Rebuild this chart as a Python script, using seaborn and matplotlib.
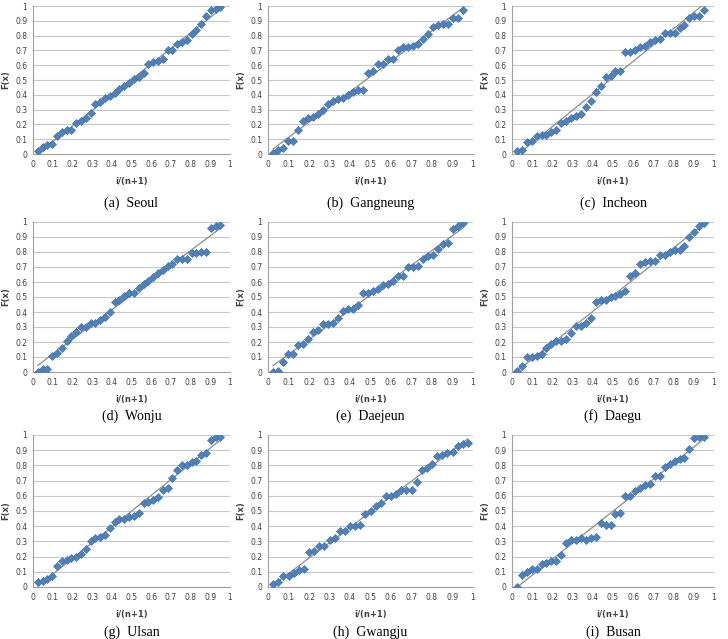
import numpy as np
import pandas as pd
import seaborn as sns
import matplotlib.pyplot as plt

# P-P plot values F(x) per station (39 points each)
seoul = [0.02, 0.05, 0.06, 0.07, 0.12, 0.15, 0.16, 0.16, 0.21, 0.22, 0.24, 0.28, 0.34, 0.35, 0.38, 0.39,
         0.41, 0.44, 0.46, 0.48, 0.51, 0.52, 0.55, 0.61, 0.62, 0.63, 0.64, 0.70, 0.70, 0.74, 0.76, 0.77,
         0.81, 0.84, 0.88, 0.93, 0.97, 0.98, 0.99]
gangneung = [0.01, 0.03, 0.04, 0.09, 0.09, 0.16, 0.22, 0.24, 0.25, 0.27, 0.30, 0.34, 0.36, 0.37, 0.38, 0.40,
             0.42, 0.43, 0.43, 0.55, 0.56, 0.61, 0.61, 0.64, 0.64, 0.70, 0.72, 0.72, 0.73, 0.74, 0.78, 0.81,
             0.86, 0.87, 0.88, 0.88, 0.92, 0.92, 0.97]
incheon = [0.02, 0.03, 0.08, 0.09, 0.12, 0.13, 0.13, 0.15, 0.16, 0.21, 0.22, 0.24, 0.26, 0.27, 0.32, 0.36,
           0.42, 0.46, 0.52, 0.53, 0.56, 0.56, 0.69, 0.69, 0.70, 0.72, 0.73, 0.76, 0.77, 0.78, 0.82, 0.82,
           0.82, 0.85, 0.87, 0.92, 0.93, 0.93, 0.97]
wonju = [0.00, 0.02, 0.02, 0.11, 0.13, 0.16, 0.21, 0.24, 0.27, 0.30, 0.30, 0.33, 0.33, 0.35, 0.37, 0.40,
         0.47, 0.48, 0.51, 0.53, 0.53, 0.56, 0.59, 0.61, 0.63, 0.66, 0.68, 0.71, 0.72, 0.75, 0.75, 0.75,
         0.79, 0.79, 0.80, 0.80, 0.96, 0.97, 0.98]
daejeun = [0.00, 0.01, 0.07, 0.12, 0.12, 0.18, 0.19, 0.22, 0.27, 0.28, 0.32, 0.32, 0.33, 0.36, 0.41, 0.42,
           0.42, 0.45, 0.53, 0.53, 0.54, 0.55, 0.58, 0.59, 0.61, 0.64, 0.64, 0.70, 0.70, 0.71, 0.75, 0.77,
           0.78, 0.82, 0.85, 0.86, 0.95, 0.97, 0.99]
daegu = [0.01, 0.04, 0.10, 0.10, 0.11, 0.12, 0.16, 0.19, 0.21, 0.21, 0.22, 0.26, 0.31, 0.31, 0.33, 0.36,
         0.47, 0.48, 0.48, 0.50, 0.51, 0.52, 0.54, 0.64, 0.66, 0.72, 0.73, 0.74, 0.74, 0.78, 0.78, 0.80,
         0.81, 0.81, 0.84, 0.90, 0.93, 0.97, 0.99]
ulsan = [0.03, 0.04, 0.05, 0.07, 0.14, 0.17, 0.18, 0.19, 0.20, 0.22, 0.25, 0.30, 0.32, 0.33, 0.34, 0.39,
         0.43, 0.45, 0.45, 0.46, 0.47, 0.49, 0.55, 0.56, 0.57, 0.59, 0.64, 0.65, 0.72, 0.77, 0.80, 0.80,
         0.82, 0.83, 0.87, 0.88, 0.97, 0.99, 0.99]
gwangju = [0.02, 0.03, 0.07, 0.07, 0.09, 0.11, 0.12, 0.23, 0.24, 0.27, 0.27, 0.31, 0.32, 0.37, 0.37, 0.40,
           0.40, 0.41, 0.48, 0.50, 0.53, 0.55, 0.60, 0.60, 0.61, 0.64, 0.64, 0.64, 0.69, 0.77, 0.78, 0.81,
           0.86, 0.87, 0.88, 0.89, 0.93, 0.94, 0.95]
busan = [0.00, 0.08, 0.10, 0.12, 0.12, 0.15, 0.16, 0.17, 0.17, 0.21, 0.29, 0.31, 0.31, 0.32, 0.31, 0.32,
         0.33, 0.42, 0.41, 0.41, 0.48, 0.49, 0.60, 0.60, 0.63, 0.65, 0.67, 0.68, 0.73, 0.73, 0.79, 0.81,
         0.83, 0.84, 0.85, 0.91, 0.98, 0.99, 0.99]

stations = ['Seoul', 'Gangneung', 'Incheon', 'Wonju', 'Daejeun', 'Daegu', 'Ulsan', 'Gwangju', 'Busan']
letters = ['a', 'b', 'c', 'd', 'e', 'f', 'g', 'h', 'i']
values = [seoul, gangneung, incheon, wonju, daejeun, daegu, ulsan, gwangju, busan]
# n+1 used for the plotting position i/(n+1)
n_plus_1 = [41, 41, 41, 41, 41, 41, 41, 40, 41]

ticks = [0, 0.1, 0.2, 0.3, 0.4, 0.5, 0.6, 0.7, 0.8, 0.9, 1]
tick_labels = ['0', '0.1', '0.2', '0.3', '0.4', '0.5', '0.6', '0.7', '0.8', '0.9', '1']

W, H = 728, 639
fig = plt.figure(figsize=(W / 100, H / 100), dpi=100)

# pixel positions of each panel's plot area (x0, x1) and (y top, y bottom)
col_px = [(33, 230), (268, 473), (512, 714)]
row_px = [(6, 154), (222, 372), (435, 587)]
caption_y = [203, 416, 632]

for k, (st, lt, v, np1) in enumerate(zip(stations, letters, values, n_plus_1)):
    r, c = divmod(k, 3)
    x0, x1 = col_px[c]
    yt, yb = row_px[r]
    ax = fig.add_axes([x0 / W, 1 - yb / H, (x1 - x0) / W, (yb - yt) / H])
    df = pd.DataFrame({'p': np.arange(1, len(v) + 1) / np1, 'F': v})

    ax.set_axisbelow(True)
    ax.grid(axis='y', color='#c8c8c8', lw=0.8)
    sns.regplot(data=df, x='p', y='F', ax=ax, scatter=False, ci=None,
                line_kws={'color': '#8c8c8c', 'lw': 0.9})
    sns.scatterplot(data=df, x='p', y='F', ax=ax, marker='D', s=17,
                    color='#4f81bd', edgecolor='#3d6fa8', linewidth=0.4, zorder=3)

    ax.set_xlim(0, 1)
    ax.set_ylim(0, 1)
    ax.set_xticks(ticks)
    ax.set_xticklabels(tick_labels)
    ax.set_yticks(ticks)
    ax.set_yticklabels(tick_labels)
    ax.tick_params(labelsize=5.5, colors='#404040', length=0, pad=4)
    for s in ['top', 'right']:
        ax.spines[s].set_visible(False)
    for s in ['left', 'bottom']:
        ax.spines[s].set_color('#a0a0a0')
        ax.spines[s].set_linewidth(0.8)
    ax.set_xlabel('i/(n+1)', fontsize=6, fontweight='bold', color='#404040', labelpad=6)
    ax.set_ylabel('F(x)', fontsize=6, fontweight='bold', color='#404040', labelpad=4)

    fig.text((x0 + x1) / 2 / W, 1 - caption_y[r] / H, f'({lt})  {st}',
             ha='center', va='center', fontsize=10, family='Liberation Serif')

fig.savefig('out.png', dpi=100)
